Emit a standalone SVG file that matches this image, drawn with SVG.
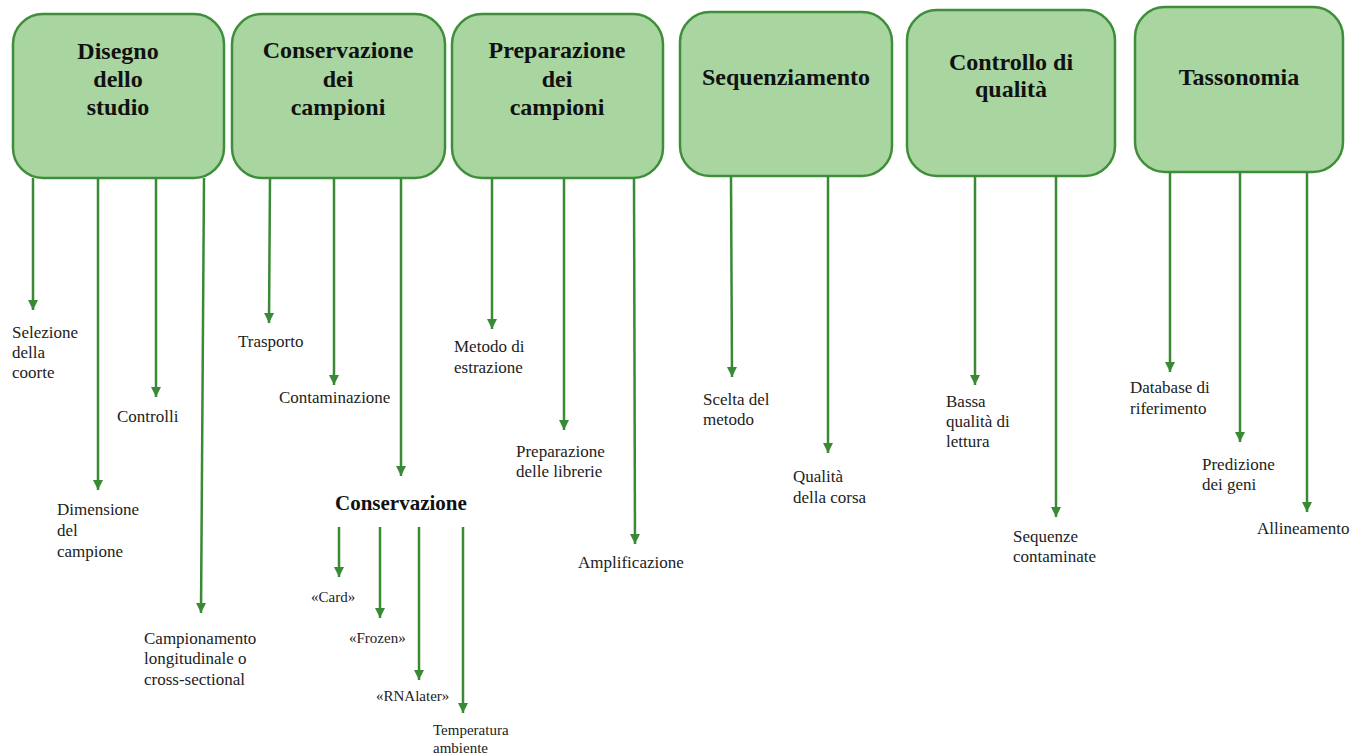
<svg xmlns="http://www.w3.org/2000/svg" width="1363" height="755" viewBox="0 0 1363 755">
<style>
.box{fill:#a8d5a0;stroke:#3f8f3a;stroke-width:2.5}
.t{font-family:"Liberation Serif","Times New Roman",serif;font-weight:bold;font-size:24px;fill:#111;text-anchor:middle}
.l{font-family:"Liberation Serif","Times New Roman",serif;font-size:17px;fill:#222}
.s{font-family:"Liberation Serif","Times New Roman",serif;font-size:15px;fill:#222}
.b{font-family:"Liberation Serif","Times New Roman",serif;font-size:21px;font-weight:bold;fill:#111}
.c line{stroke:#3a8a35;stroke-width:2.5}
</style>
<defs>
<marker id="ah" markerUnits="userSpaceOnUse" markerWidth="11" markerHeight="11" viewBox="0 0 11 11" refX="10" refY="5.5" orient="auto">
<path d="M0,0.5 L10,5.5 L0,10.5 Z" fill="#3a8a35"/>
</marker>
</defs>
<rect width="1363" height="755" fill="#fff"/>
<g id="n1"><rect class="box" x="13" y="14" width="211" height="164" rx="30"/>
<text class="t" x="118" y="59">Disegno</text><text class="t" x="118" y="87">dello</text><text class="t" x="118" y="115">studio</text></g>
<g id="n2"><rect class="box" x="232" y="14" width="213" height="164" rx="30"/>
<text class="t" x="338" y="58">Conservazione</text><text class="t" x="338" y="87">dei</text><text class="t" x="338" y="115">campioni</text></g>
<g id="n3"><rect class="box" x="452" y="14" width="211" height="164" rx="30"/>
<text class="t" x="557" y="58">Preparazione</text><text class="t" x="557" y="87">dei</text><text class="t" x="557" y="115">campioni</text></g>
<g id="n4"><rect class="box" x="680" y="12" width="212" height="164" rx="30"/>
<text class="t" x="786" y="85">Sequenziamento</text></g>
<g id="n5"><rect class="box" x="907" y="10" width="208" height="166" rx="30"/>
<text class="t" x="1011" y="70">Controllo di</text><text class="t" x="1011" y="97">qualità</text></g>
<g id="n6"><rect class="box" x="1135" y="7" width="208" height="165" rx="30"/>
<text class="t" x="1239" y="85">Tassonomia</text></g>
<g class="c" id="connectors">
<line x1="33" y1="178" x2="33" y2="310" marker-end="url(#ah)"/>
<line x1="98" y1="178" x2="98" y2="490" marker-end="url(#ah)"/>
<line x1="156" y1="178" x2="156" y2="397" marker-end="url(#ah)"/>
<line x1="204" y1="178" x2="201" y2="613" marker-end="url(#ah)"/>
<line x1="270" y1="178" x2="269" y2="323" marker-end="url(#ah)"/>
<line x1="334" y1="178" x2="334" y2="385" marker-end="url(#ah)"/>
<line x1="401" y1="178" x2="401" y2="476" marker-end="url(#ah)"/>
<line x1="339" y1="527" x2="339" y2="577" marker-end="url(#ah)"/>
<line x1="380" y1="527" x2="380" y2="618" marker-end="url(#ah)"/>
<line x1="419" y1="527" x2="419" y2="680" marker-end="url(#ah)"/>
<line x1="463" y1="527" x2="463" y2="713" marker-end="url(#ah)"/>
<line x1="492" y1="178" x2="492" y2="329" marker-end="url(#ah)"/>
<line x1="564" y1="178" x2="564" y2="430" marker-end="url(#ah)"/>
<line x1="634" y1="178" x2="635" y2="544" marker-end="url(#ah)"/>
<line x1="731" y1="176" x2="732" y2="377" marker-end="url(#ah)"/>
<line x1="828" y1="176" x2="828" y2="453" marker-end="url(#ah)"/>
<line x1="975" y1="176" x2="975" y2="385" marker-end="url(#ah)"/>
<line x1="1056" y1="176" x2="1056" y2="517" marker-end="url(#ah)"/>
<line x1="1170" y1="172" x2="1170" y2="372" marker-end="url(#ah)"/>
<line x1="1240" y1="172" x2="1240" y2="442" marker-end="url(#ah)"/>
<line x1="1307" y1="172" x2="1307" y2="512" marker-end="url(#ah)"/>
</g>
<g id="labels">
<text class="l" x="12" y="338">Selezione</text><text class="l" x="12" y="358">della</text><text class="l" x="12" y="378">coorte</text>
<text class="l" x="117" y="422">Controlli</text>
<text class="l" x="57" y="515">Dimensione</text><text class="l" x="57" y="536">del</text><text class="l" x="57" y="557">campione</text>
<text class="l" x="144" y="644">Campionamento</text><text class="l" x="144" y="664">longitudinale o</text><text class="l" x="144" y="685">cross-sectional</text>
<text class="l" x="238" y="347">Trasporto</text>
<text class="l" x="279" y="403">Contaminazione</text>
<text class="b" x="335" y="510">Conservazione</text>
<text class="s" x="311" y="602">«Card»</text>
<text class="s" x="349" y="643">«Frozen»</text>
<text class="s" x="376" y="701">«RNAlater»</text>
<text class="s" x="433" y="735">Temperatura</text><text class="s" x="433" y="753">ambiente</text>
<text class="l" x="454" y="352">Metodo di</text><text class="l" x="454" y="373">estrazione</text>
<text class="l" x="516" y="457">Preparazione</text><text class="l" x="516" y="477">delle librerie</text>
<text class="l" x="578" y="568">Amplificazione</text>
<text class="l" x="703" y="405">Scelta del</text><text class="l" x="703" y="425">metodo</text>
<text class="l" x="793" y="482">Qualità</text><text class="l" x="793" y="503">della corsa</text>
<text class="l" x="946" y="407">Bassa</text><text class="l" x="946" y="427">qualità di</text><text class="l" x="946" y="447">lettura</text>
<text class="l" x="1013" y="542">Sequenze</text><text class="l" x="1013" y="562">contaminate</text>
<text class="l" x="1130" y="393">Database di</text><text class="l" x="1130" y="414">riferimento</text>
<text class="l" x="1202" y="470">Predizione</text><text class="l" x="1202" y="490">dei geni</text>
<text class="l" x="1257" y="534">Allineamento</text>
</g>
</svg>
